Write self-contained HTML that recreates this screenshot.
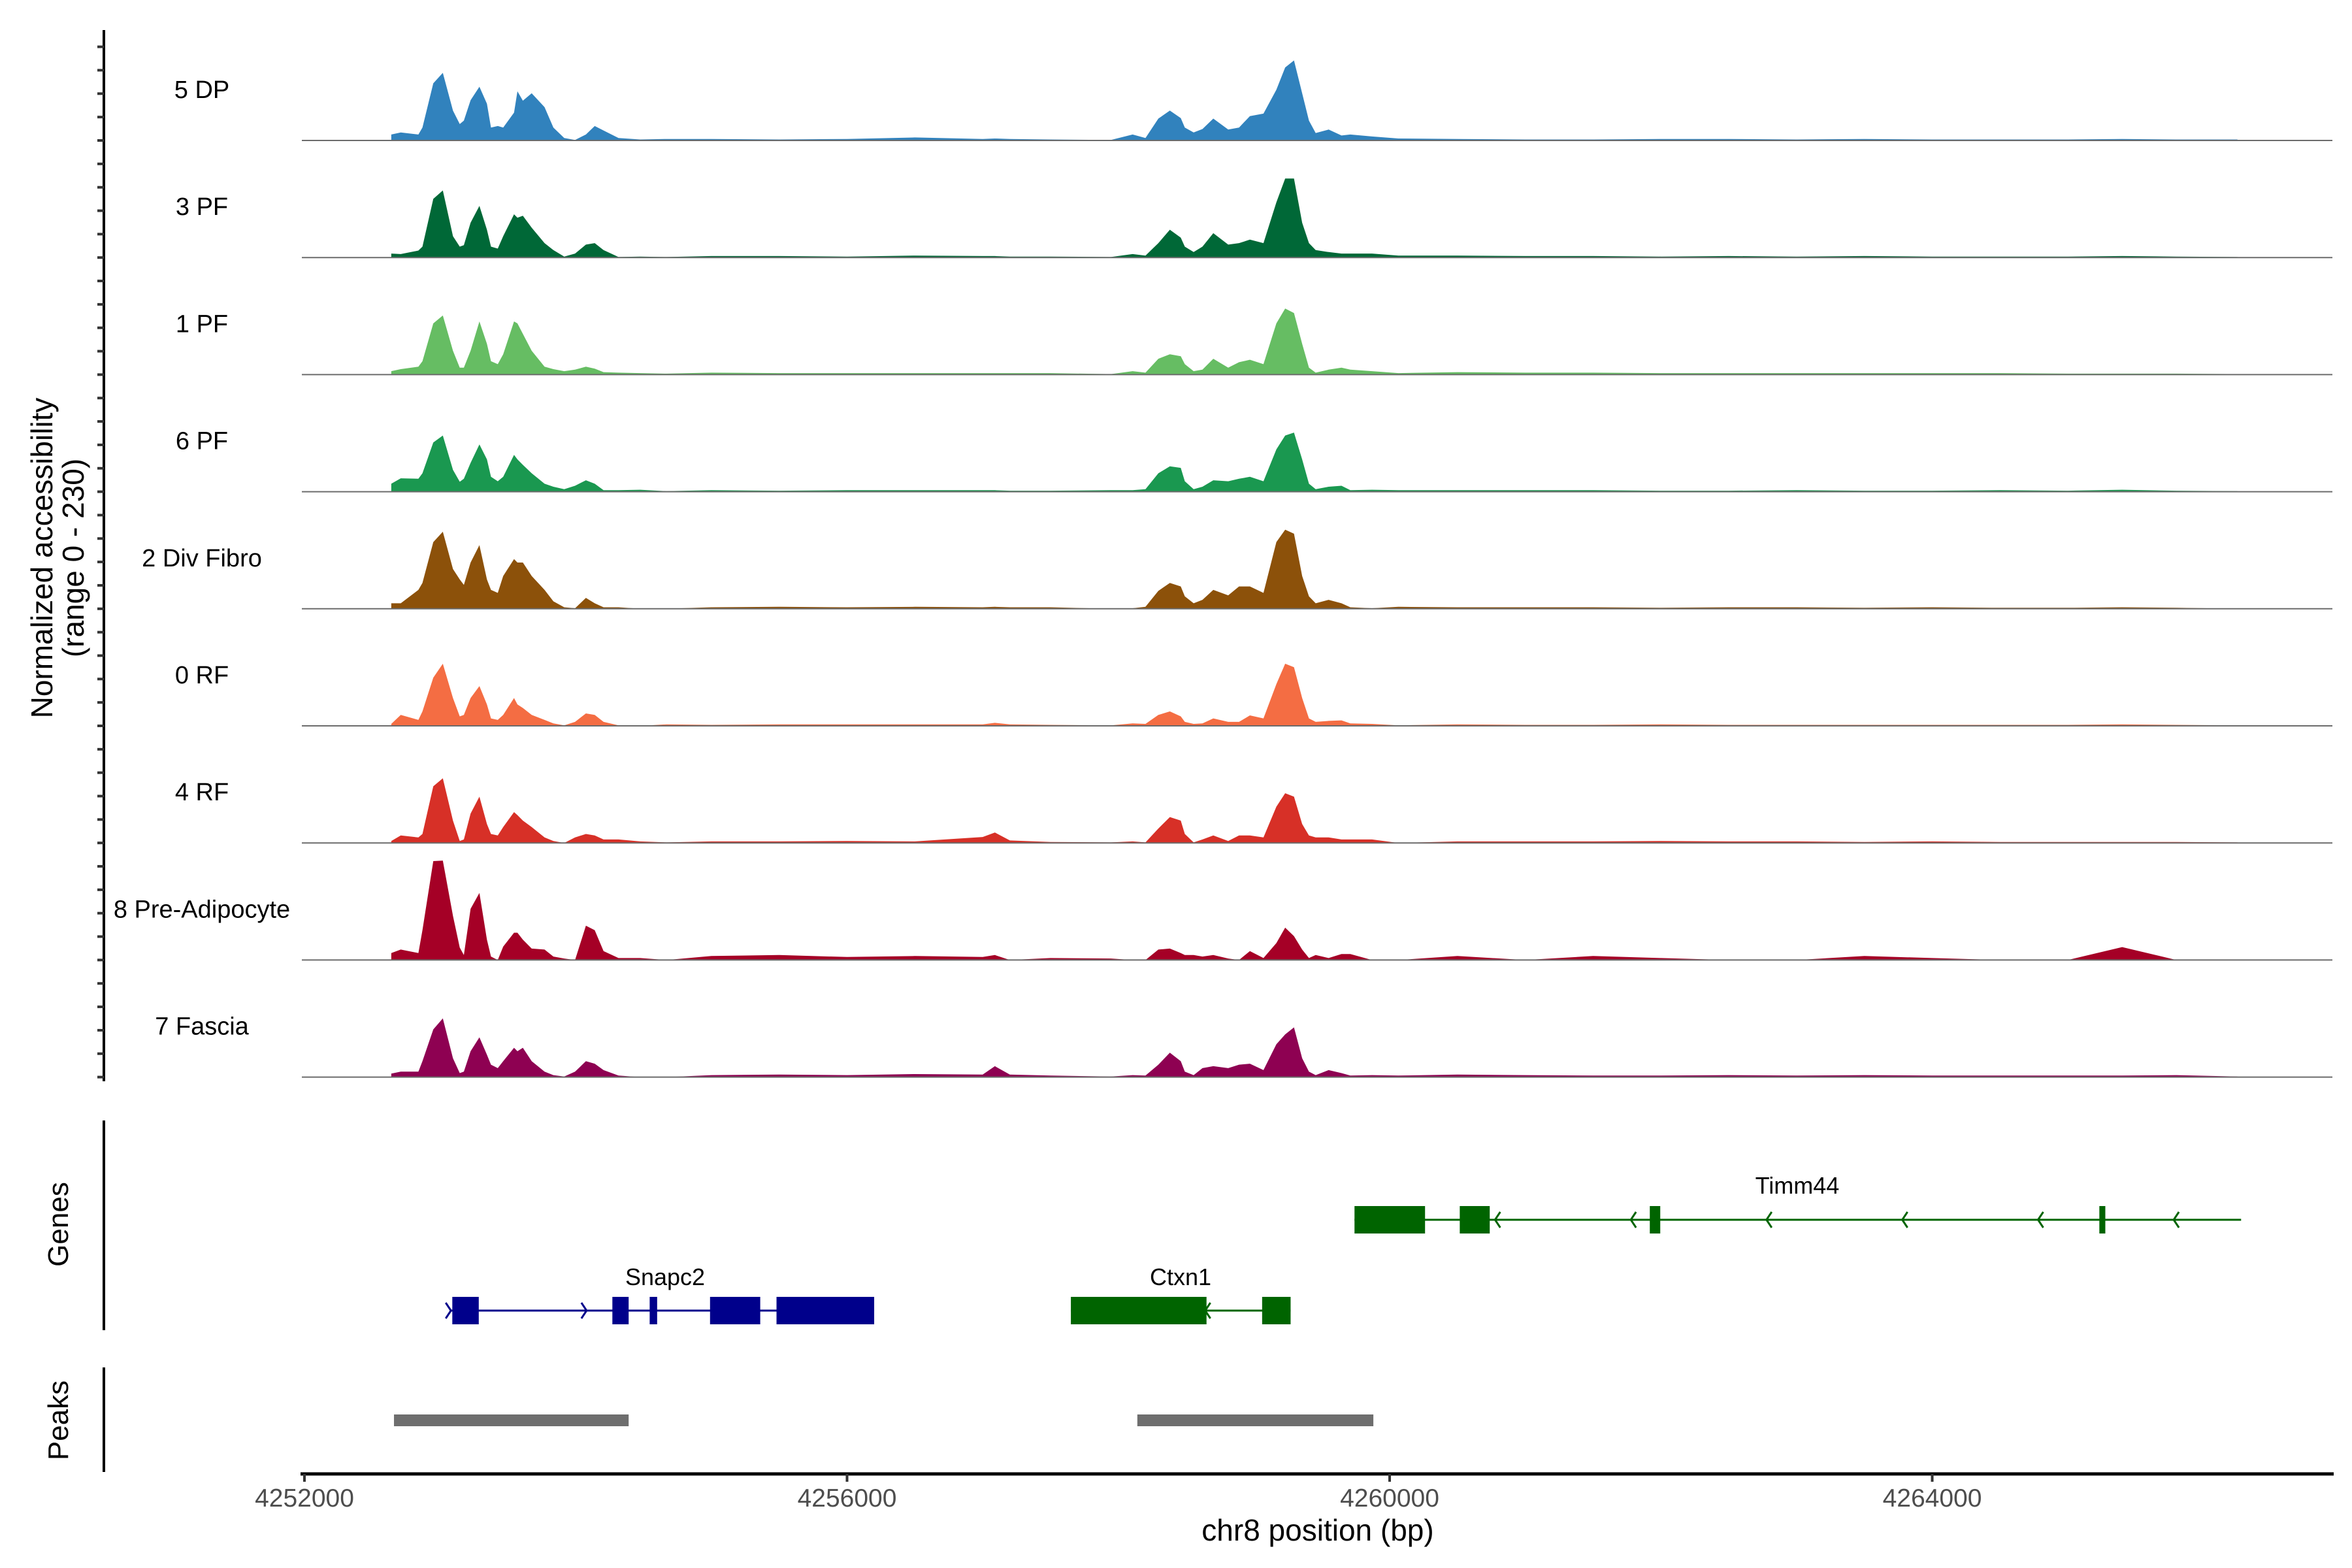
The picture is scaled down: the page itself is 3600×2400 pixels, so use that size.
<!DOCTYPE html>
<html><head><meta charset="utf-8">
<style>
html,body{margin:0;padding:0;background:#fff;}
svg{display:block;font-family:"Liberation Sans",Arial,sans-serif;}
</style></head>
<body>
<svg id="chart" width="3600" height="2400" viewBox="0 0 3600 2400" xmlns="http://www.w3.org/2000/svg">
  <rect width="3600" height="2400" fill="#fff"/>
  <g id="tracks"></g>
  <g id="axes"></g>
  <g id="genes"></g>
  <g id="peaks"></g>
  <text transform="translate(80,854) rotate(-90)" text-anchor="middle" font-size="46" fill="#000">Normalized accessibility</text>
  <text transform="translate(128,854) rotate(-90)" text-anchor="middle" font-size="46" fill="#000">(range 0 - 230)</text>
  <text transform="translate(104,1874) rotate(-90)" text-anchor="middle" font-size="44" fill="#000">Genes</text>
  <text transform="translate(104,2174) rotate(-90)" text-anchor="middle" font-size="44" fill="#000">Peaks</text>
  <text x="2017" y="2358" text-anchor="middle" font-size="46" fill="#000">chr8 position (bp)</text>
</svg>
<script>
// ---- data ----
const positions = [4252640,4252710,4252840,4252870,4252950,4253020,4253095,4253145,4253175,4253225,4253290,4253345,4253375,4253425,4253465,4253545,4253570,4253610,4253675,4253770,4253835,4253915,4253995,4254075,4254140,4254205,4254315,4254475,4254670,
 4255000,4255500,4256000,4256500,4257000,4257090,4257200,4257500,
 4257945,4258105,4258200,4258295,4258380,4258460,4258490,4258555,4258620,4258700,4258810,4258890,4258970,4259070,4259165,4259230,4259295,4259355,4259405,4259455,4259550,4259645,4259710,4259870,4260065,
 4260500,4261000,4261500,4262000,4262500,4263000,4263500,4264000,4264500,4265000,4265400,4265800,4266250];
const trackNames = ["5 DP","3 PF","1 PF","6 PF","2 Div Fibro","0 RF","4 RF","8 Pre-Adipocyte","7 Fascia"];
const trackColors = ["#3182bd","#006837","#66bd63","#1a9850","#8c510a","#f46d43","#d73027","#a50026","#8e0152"];
const vals5DP = [12,16,12,26,115,136,60,33,40,81,108,74,26,29,26,56,99,80,95,67,26,5,1,12,29,20,5,2,3, 3,2,3,6,3,4,3,2, 1,12,5,44,60,45,26,16,23,44,22,26,49,54,102,147,161,95,40,15,22,10,12,8,4, 3,2,2,3,3,2,3,2,2,2,3,2,2];
const vals3PF = [8,7,14,22,118,135,43,22,25,70,104,56,22,18,43,87,80,84,60,29,15,2,8,26,29,15,1,2,1, 3,3,2,4,3,3,2,2, 1,7,4,29,56,40,22,11,22,49,26,29,36,29,111,159,159,70,29,15,11,8,8,8,4, 4,3,3,2,3,2,3,2,2,2,3,2,1];
const vals1PF = [7,11,16,27,103,119,48,14,14,48,107,62,27,21,41,107,103,82,48,16,11,7,10,16,12,5,4,3,2, 4,3,3,3,3,3,3,3, 1,7,4,32,41,37,21,7,10,32,14,25,30,21,103,133,124,62,14,4,10,14,10,7,3, 5,4,4,3,3,3,3,3,3,2,2,2,1];
const vals6PF = [16,27,26,37,99,113,44,20,26,58,95,65,30,21,30,74,65,54,37,16,10,5,12,23,16,3,3,4,1, 3,2,3,3,3,3,2,2, 3,3,5,37,51,48,21,5,10,23,21,26,30,21,85,113,119,65,16,5,10,12,3,4,3, 3,3,3,2,2,3,2,2,3,2,4,2,1];
const vals2DivFibro = [11,11,38,52,134,155,80,59,48,93,128,59,38,32,66,100,93,93,66,38,15,3,1,22,11,3,3,0,0, 3,4,3,4,3,4,3,3, 0,1,4,36,52,45,25,11,18,38,27,45,45,32,134,159,151,66,25,11,18,11,3,1,4, 3,3,3,2,3,3,2,3,2,2,3,2,0];
const vals0RF = [4,22,12,29,97,125,56,19,22,56,80,43,15,12,22,56,43,36,22,12,5,1,8,25,22,8,1,0,3, 2,3,3,3,3,6,3,2, 1,5,4,22,29,19,8,4,5,15,8,8,21,15,84,125,118,56,15,8,10,11,5,4,1, 3,2,2,3,2,2,2,2,2,2,3,2,1];
const vals4RF = [4,15,11,18,114,130,45,4,7,59,93,38,18,15,32,62,56,45,32,11,4,0,11,18,15,7,7,3,1, 3,3,4,3,12,21,5,2, 1,3,1,29,52,45,18,1,7,15,4,15,15,11,73,100,93,38,15,11,11,7,7,7,0, 3,3,3,4,3,3,2,3,2,2,2,2,1];
const vals8PreAdipocyte = [14,21,14,60,199,200,89,25,10,103,135,41,7,0,27,55,55,41,23,21,7,3,0,69,60,18,4,4,0, 8,10,6,8,6,10,0,4, 3,0,0,21,23,14,10,10,7,10,3,0,18,4,34,65,48,21,4,10,4,12,12,0,0, 8,0,8,4,0,0,8,4,0,0,26,0,0];
const vals7Fascia = [7,11,11,32,96,118,38,8,11,52,80,45,25,18,32,59,52,59,32,11,4,1,11,32,27,14,3,0,0, 4,5,4,6,5,22,5,3, 1,4,3,25,49,32,11,4,18,22,18,25,27,14,66,86,100,38,11,4,14,8,3,4,3, 5,4,3,3,4,3,4,3,3,3,3,4,1];
const trackValues = [vals5DP,vals3PF,vals1PF,vals6PF,vals2DivFibro,vals0RF,vals4RF,vals8PreAdipocyte,vals7Fascia];
const xTicks = [4252000,4256000,4260000,4264000];
const xTickLabels = ["4252000","4256000","4260000","4264000"];
// genes: [start,end] in bp
const timm44Exons = [[4259741,4260261],[4260517,4260738],[4261918,4261995],[4265232,4265276]];
const timm44Span = [4259741,4266277];
const timm44Arrows = [4260777,4261778,4262778,4263779,4264780,4265780];
const snapc2ExonList = [[4253090,4253285],[4254270,4254390],[4254545,4254600],[4254990,4255360],[4255480,4256200]];
const snapc2Span = [4253080,4256200];
const snapc2Arrows = [4253080,4254080];
const ctxn1Exons = [[4257650,4258650],[4259060,4259270]];
const ctxn1Span = [4257650,4259270];
const ctxn1Arrows = [4258640];
const peakRegions = [[4252660,4254390],[4258140,4259880]];

// ---- scales ----
const X0 = 466, PXBP = 830.5/4000;
function xScale(bp){ return X0 + (bp-4252000)*PXBP; }
const YMAX = 230, TRACK_H = 175;
function baseline(i){ return 215 + i*179.2; }
function yScale(v,i){ return baseline(i) - v/YMAX*TRACK_H; }

const NS="http://www.w3.org/2000/svg";
function mk(tag,attrs,parent){const e=document.createElementNS(NS,tag);for(const k in attrs)e.setAttribute(k,attrs[k]);parent.appendChild(e);return e;}

const tracks=document.getElementById('tracks');
trackValues.forEach((vals,i)=>{
  let d="M"+xScale(positions[0])+","+baseline(i);
  vals.forEach((v,j)=>{ d+=" L"+xScale(positions[j]).toFixed(1)+","+yScale(v,i).toFixed(1); });
  d+=" L"+xScale(positions[positions.length-1])+","+baseline(i)+" Z";
  const p=mk('path',{d:d,fill:trackColors[i]},tracks);
  
  
  const bl=mk('line',{x1:462,x2:3570,y1:baseline(i),y2:baseline(i),stroke:'#6b6b6b','stroke-width':2},tracks);
  
  
  const t=mk('text',{x:309,y:baseline(i)-65,'text-anchor':'middle','font-size':38,fill:'#000'},tracks);
  t.textContent=trackNames[i];
  
  
});

const axes=document.getElementById('axes');
let a=mk('line',{x1:159,x2:159,y1:46,y2:1655,stroke:'#000','stroke-width':4},axes);


for(let i=0;i<9;i++){for(let k=0;k<5;k++){
  const y=baseline(i)-k*35.84;
  const tk=mk('line',{x1:149,x2:159,y1:y,y2:y,stroke:'#333','stroke-width':4},axes);
  
  
}}
a=mk('line',{x1:159,x2:159,y1:1715,y2:2036,stroke:'#000','stroke-width':4},axes);


a=mk('line',{x1:159,x2:159,y1:2093,y2:2253,stroke:'#000','stroke-width':4},axes);


a=mk('line',{x1:460,x2:3572,y1:2256,y2:2256,stroke:'#000','stroke-width':5},axes);


xTicks.forEach((t,i)=>{
  const tk=mk('line',{x1:xScale(t),x2:xScale(t),y1:2256,y2:2268,stroke:'#333','stroke-width':4},axes);
  
  
  const tl=mk('text',{x:xScale(t),y:2306,'text-anchor':'middle','font-size':39,fill:'#4d4d4d'},axes);
  tl.textContent=xTickLabels[i];
  
  
});

const genes=document.getElementById('genes');
function drawGene(name,span,exons,arrows,dir,y,color,labelX,labelY){
  const l=mk('line',{x1:xScale(span[0]),x2:xScale(span[1]),y1:y,y2:y,stroke:color,'stroke-width':3},genes);
  
  
  exons.forEach(e=>{
    const r=mk('rect',{x:xScale(e[0]),y:y-21,width:xScale(e[1])-xScale(e[0]),height:42,fill:color},genes);
    
    
  });
  arrows.forEach(b=>{
    const x=xScale(b);
    const d= dir>0 ? `M${x-8},${y-12} L${x},${y} L${x-8},${y+12}` : `M${x+8},${y-12} L${x},${y} L${x+8},${y+12}`;
    const ar=mk('path',{d:d,fill:'none',stroke:color,'stroke-width':3},genes);
    
    
  });
  const t=mk('text',{x:labelX,y:labelY,'text-anchor':'middle','font-size':36,fill:'#000'},genes);
  t.textContent=name;
  
  
}
drawGene("Timm44",timm44Span,timm44Exons,timm44Arrows,-1,1867,"#006400",2751,1827);
drawGene("Snapc2",snapc2Span,snapc2ExonList,snapc2Arrows,1,2006,"#00008b",1018,1967);
drawGene("Ctxn1",ctxn1Span,ctxn1Exons,ctxn1Arrows,-1,2006,"#006400",1807,1967);

const peaks=document.getElementById('peaks');
peakRegions.forEach(p=>{
  const r=mk('rect',{x:xScale(p[0]),y:2165,width:xScale(p[1])-xScale(p[0]),height:18,fill:'#6e6e6e'},peaks);
  
  
});
</script>
</body></html>
